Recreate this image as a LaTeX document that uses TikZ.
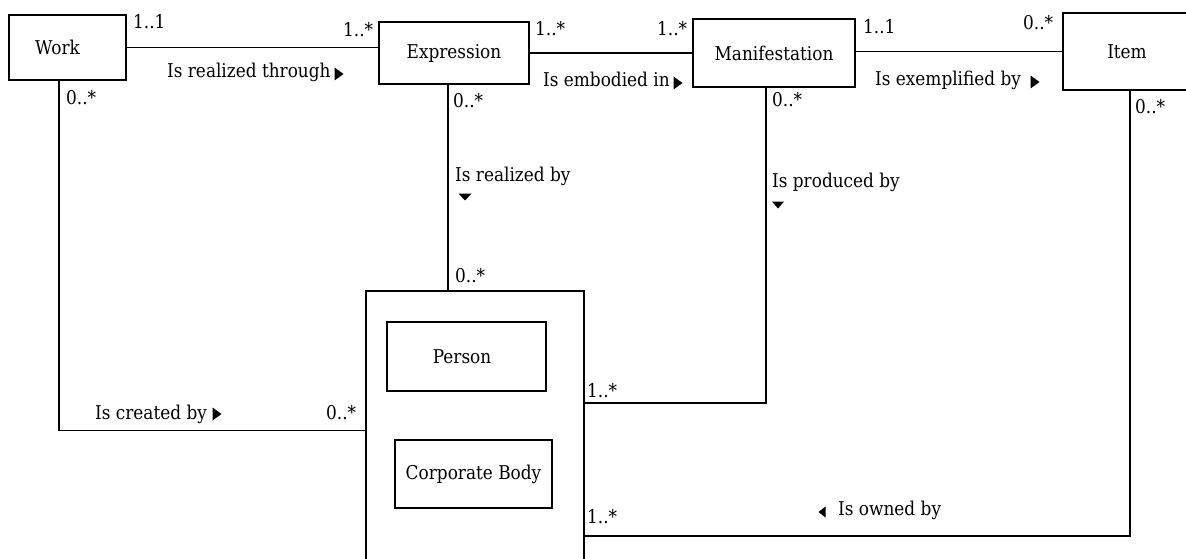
\documentclass[tikz,border=0pt]{standalone}
\usepackage{fontspec}
\setmainfont[FakeStretch=0.89]{DejaVu Serif}
\begin{document}
\begin{tikzpicture}[x=1pt,y=-1pt,
  box/.style={draw, line width=1.8pt, inner sep=0pt, font=\fontsize{19}{22}\selectfont},
  wire/.style={line width=1.8pt},
  lbl/.style={anchor=base west, inner sep=0pt, font=\fontsize{19}{22}\selectfont},
  mark/.style={fill=black, shift={#1}}]
\useasboundingbox (0,0) rectangle (1186,559);
\clip (0,0) rectangle (1186,559);
\fill[white] (0,0) rectangle (1186,559);

% entities
\node[box, minimum width=117pt, minimum height=65pt] (work) at (67.5,47.5) {\hspace*{-20pt}Work};
\node[box, minimum width=150pt, minimum height=62pt] (expr) at (454,53) {Expression};
\node[box, minimum width=162pt, minimum height=68pt] (manif) at (774,53) {Manifestation};
\node[box, minimum width=128pt, minimum height=77pt] (item) at (1127,51.5) {Item};

% group of responsible entities
\node[box, minimum width=218pt, minimum height=279pt] (grp) at (475,430.5) {};
\node[box, minimum width=159pt, minimum height=69pt] (person) at (466.5,356.5) {\hspace*{-9pt}Person};
\node[box, minimum width=157pt, minimum height=68pt] (corp) at (473.5,474) {Corporate Body};

% relationships
\draw[wire] (work.east) -- (work.east -| expr.west);
\draw[wire] (expr.east) -- (manif.west);
\draw[wire] (item.west -| manif.east) -- (item.west);
\draw[wire] ([xshift=-8.5pt]work.south) |- (grp.west);
\draw[wire] ([xshift=-6pt]expr.south) -- ([xshift=-6pt]expr.south |- grp.north);
\draw[wire] ([xshift=-8pt]manif.south) |- ([yshift=27.5pt]grp.east);
\draw[wire] ([xshift=3pt]item.south) |- ([yshift=-105.5pt]grp.east);

% multiplicities
\node[lbl] (m1) at (133,29) {1..1};
\node[lbl] (m2) at (343,37) {1..*};
\node[lbl] (m3) at (535,36) {1..*};
\node[lbl] (m4) at (657,36) {1..*};
\node[lbl] (m5) at (863,34) {1..1};
\node[lbl] (m6) at (1023,30) {0..*};
\node[lbl] (m7) at (66,105) {0..*};
\node[lbl] (m8) at (453,108) {0..*};
\node[lbl] (m9) at (772,107) {0..*};
\node[lbl] (m10) at (1135,114) {0..*};
\node[lbl] (m11) at (455,282) {0..*};
\node[lbl] (m12) at (587,397) {1..*};
\node[lbl] (m13) at (587,523) {1..*};
\node[lbl] (m14) at (326,419) {0..*};

% role names
\node[lbl] (r1) at (167,78) {Is realized through};
\node[lbl] (r2) at (543,87) {Is embodied in};
\node[lbl] (r3) at (875,86) {Is exemplified by};
\node[lbl] (r4) at (455,182) {Is realized by};
\node[lbl] (r5) at (772,187) {Is produced by};
\node[lbl] (r6) at (95,419) {Is created by};
\node[lbl] (r7) at (838,515) {Is owned by};

% reading direction marks
\fill[mark={(339,74)}] (-4.5,-6.5) -- (4.5,0) -- (-4.5,6.5) -- cycle;
\fill[mark={(678,83)}] (-4.5,-6.5) -- (4.5,0) -- (-4.5,6.5) -- cycle;
\fill[mark={(1035,82)}] (-4.5,-6.5) -- (4.5,0) -- (-4.5,6.5) -- cycle;
\fill[mark={(217,414)}] (-4.5,-6.5) -- (4.5,0) -- (-4.5,6.5) -- cycle;
\fill[mark={(822,512)}] (3.5,-5.5) -- (-3.5,0) -- (3.5,5.5) -- cycle;
\fill[mark={(465,197)}] (-6.5,-3.5) -- (6.5,-3.5) -- (0,3.5) -- cycle;
\fill[mark={(778,205)}] (-6,-3.5) -- (6,-3.5) -- (0,3.5) -- cycle;
\end{tikzpicture}
\end{document}
